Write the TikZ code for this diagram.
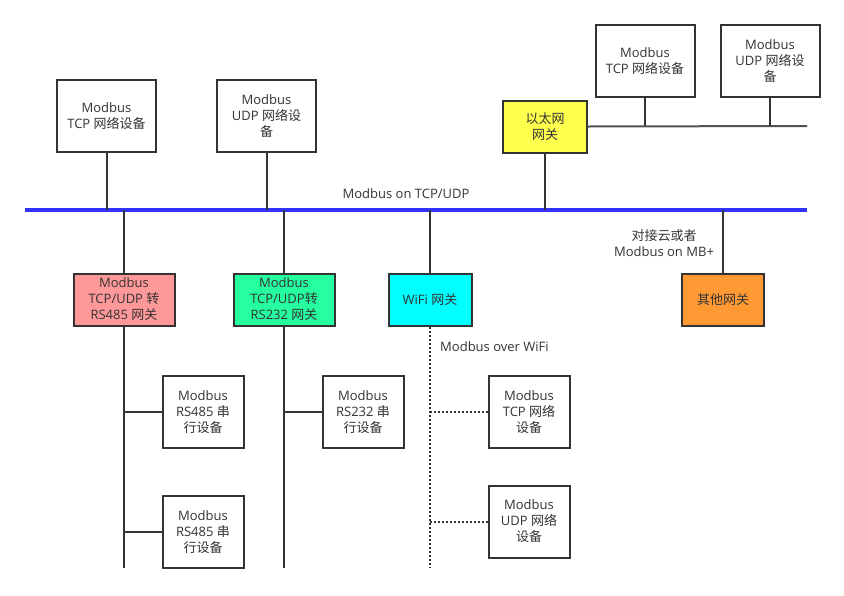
\documentclass[tikz,border=0pt]{standalone}
\usepackage{fontspec}
\setmainfont{Open Sans}
\newfontfamily\cjk{Noto Sans CJK SC}
\definecolor{ink}{HTML}{333333}
\definecolor{busblue}{HTML}{3333FF}
\definecolor{gwred}{HTML}{FF9999}
\definecolor{gwgreen}{HTML}{26FF9F}
\definecolor{gwcyan}{HTML}{00FFFF}
\definecolor{gwyellow}{HTML}{FFFF4D}
\definecolor{gworange}{HTML}{FF9933}
\begin{document}
\begin{tikzpicture}[x=1pt,y=-1pt,
  every node/.style={font=\fontsize{13}{16}\selectfont, text=ink},
  devbox/.style={draw=ink, line width=2pt, fill=white, align=center, inner sep=0pt},
  netdev/.style={devbox, minimum width=99pt, minimum height=72pt},
  serdev/.style={devbox, minimum width=81pt, minimum height=72pt},
  gw/.style={devbox, minimum height=52pt},
  wire/.style={draw=ink, line width=2pt},
  thinwire/.style={draw=ink!85, line width=2pt},
  dotwire/.style={draw=ink, line width=2pt, dash pattern=on 2pt off 2pt},
  lbl/.style={align=center, inner sep=0pt}]
\useasboundingbox (0,0) rectangle (844,595);

% bus
\coordinate (busL) at (25,210);
\coordinate (busR) at (807,210);
\draw[busblue, line width=4pt] (busL) -- (busR);
\node[lbl] (buslbl) at (406,194) {Modbus on TCP/UDP};

% upper devices
\node[netdev] (A) at (106.5,116) {Modbus\\TCP {\cjk 网络设备}};
\node[netdev] (B) at (266.5,116) {Modbus\\UDP {\cjk 网络设}\\{\cjk 备}};
\draw[wire] (A.south) -- (A.south |- busL);
\draw[wire] (B.south) -- (B.south |- busL);

% ethernet gateway
\node[gw, fill=gwyellow, minimum width=84pt] (Y) at (545,126.5) {{\cjk 以太网}\\{\cjk 网关}};
\draw[wire] (Y.south) -- (Y.south |- busL);
\coordinate (gR) at (807,126);
\draw[thinwire] (Y.east) -- (gR);
\node[netdev] (E1) at (645,61) {Modbus\\TCP {\cjk 网络设备}};
\node[netdev] (E2) at (770,61) {Modbus\\UDP {\cjk 网络设}\\{\cjk 备}};
\draw[wire] (E1.south) -- (E1.south |- gR);
\draw[wire] (E2.south) -- (E2.south |- gR);

% gateways below bus
\node[gw, fill=gwred, minimum width=101pt] (R) at (124,299.5) {Modbus\\TCP/UDP {\cjk 转}\\RS485 {\cjk 网关}};
\node[gw, fill=gwgreen, minimum width=101pt] (G) at (284,299.5) {Modbus\\TCP/UDP{\cjk 转}\\RS232 {\cjk 网关}};
\node[gw, fill=gwcyan, minimum width=83pt] (W) at (430,299.5) {WiFi {\cjk 网关}};
\node[gw, fill=gworange, minimum width=82pt] (O) at (723,299.5) {{\cjk 其他网关}};
\draw[wire] (R.north |- busL) -- (R.north);
\draw[wire] (G.north |- busL) -- (G.north);
\draw[wire] (W.north |- busL) -- (W.north);
\draw[wire] (O.north |- busL) -- (O.north);
\node[lbl] (mbplus) at (664,243) {{\cjk 对接云或者}\\Modbus on MB+};

% serial branches
\coordinate (Rend) at (124,568);
\coordinate (Gend) at (284,568);
\coordinate (Wend) at (430,568);
\draw[wire] (R.south) -- (Rend);
\draw[wire] (G.south) -- (Gend);
\draw[dotwire] (W.south) -- (Wend);
\node[lbl, anchor=west] (wifilbl) at (440,347) {Modbus over WiFi};

\node[serdev] (S1) at (203,412) {Modbus\\RS485 {\cjk 串}\\{\cjk 行设备}};
\node[serdev] (S2) at (203,532) {Modbus\\RS485 {\cjk 串}\\{\cjk 行设备}};
\node[serdev] (S3) at (363,412) {Modbus\\RS232 {\cjk 串}\\{\cjk 行设备}};
\node[serdev] (T1) at (529,412) {Modbus\\TCP {\cjk 网络}\\{\cjk 设备}};
\node[serdev] (T2) at (529,521.5) {Modbus\\UDP {\cjk 网络}\\{\cjk 设备}};
\draw[wire] (S1.west -| R.south) -- (S1.west);
\draw[wire] (S2.west -| R.south) -- (S2.west);
\draw[wire] (S3.west -| G.south) -- (S3.west);
\draw[dotwire] (T1.west -| W.south) -- (T1.west);
\draw[dotwire] (T2.west -| W.south) -- (T2.west);
\end{tikzpicture}
\end{document}
